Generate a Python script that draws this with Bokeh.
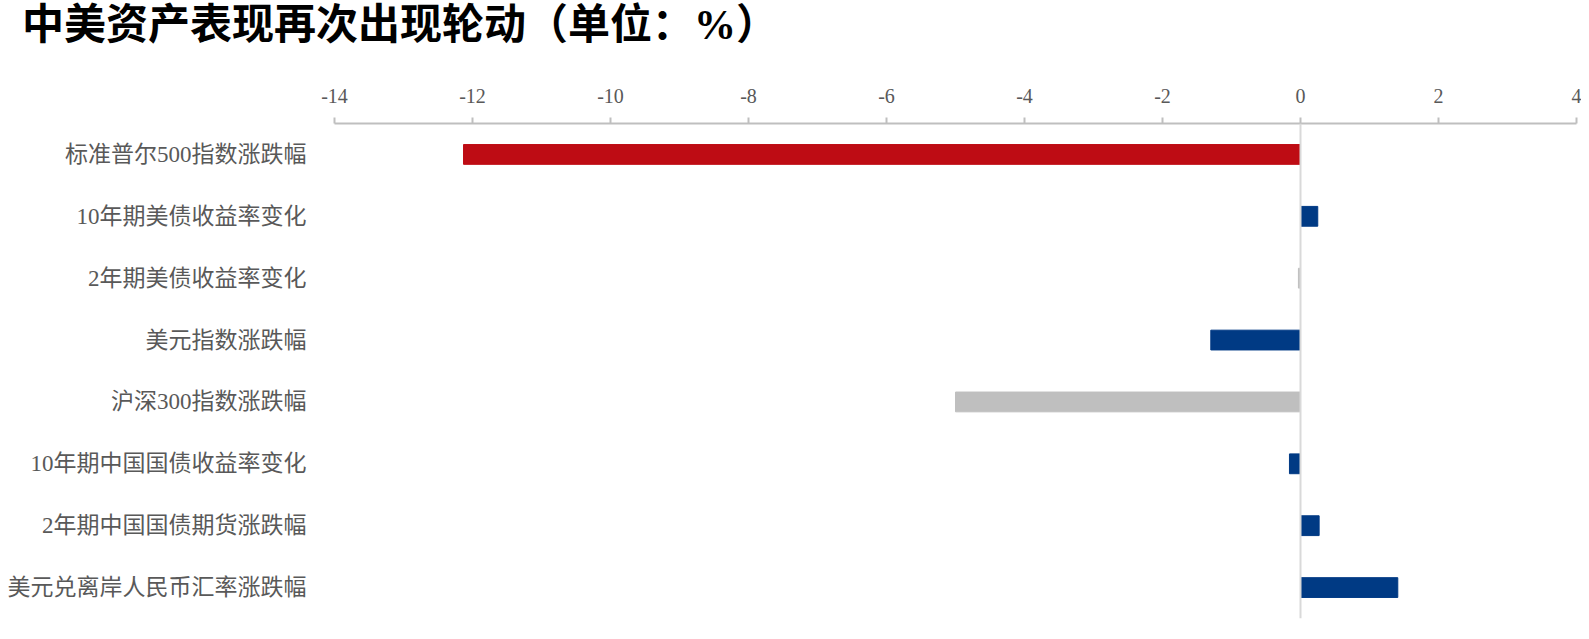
from bokeh.plotting import figure
from bokeh.models import Span, FixedTicker, ColumnDataSource, Div
from bokeh.layouts import column
from bokeh.embed import file_html
from bokeh.resources import INLINE

title_text = "中美资产表现再次出现轮动（单位：%）"
categories = [
    "标准普尔500指数涨跌幅",
    "10年期美债收益率变化",
    "2年期美债收益率变化",
    "美元指数涨跌幅",
    "沪深300指数涨跌幅",
    "10年期中国国债收益率变化",
    "2年期中国国债期货涨跌幅",
    "美元兑离岸人民币汇率涨跌幅",
]
values = [-12.13, 0.25, -0.03, -1.30, -5.00, -0.16, 0.27, 1.41]
bar_colors = ["#BE0C14", "#003A84", "#BFBFBF", "#003A84",
              "#BFBFBF", "#003A84", "#003A84", "#003A84"]
x_ticks = [-14, -12, -10, -8, -6, -4, -2, 0, 2, 4]

label_font = "'Liberation Serif', 'Noto Sans CJK SC'"

source = ColumnDataSource(data=dict(cat=categories, val=values, color=bar_colors))

title = Div(
    text=title_text, width=900, height=48, margin=(0, 0, 0, 0),
    styles={"font-family": label_font, "font-size": "42px", "font-weight": "bold",
            "line-height": "50px", "color": "#000000", "padding-left": "22px",
            "white-space": "nowrap"},
)

p = figure(
    y_range=list(reversed(categories)),
    x_range=(-14, 4),
    x_axis_location="above",
    frame_width=1242, frame_height=495,
    min_border_left=334, min_border_right=5,
    min_border_top=75, min_border_bottom=10,
    output_backend="svg", toolbar_location=None, tools="",
    margin=(0, 0, 0, 0),
)

p.hbar(y="cat", right="val", left=0, height=0.32, color="color", source=source)

p.add_layout(Span(location=0, dimension="height", line_color="#D9D9D9", line_width=2))

# top x axis
xa = p.xaxis[0]
xa.ticker = FixedTicker(ticks=x_ticks)
xa.major_label_overrides = {t: str(t) for t in x_ticks}
xa.axis_line_color = "#BFBFBF"
xa.axis_line_width = 2
xa.major_tick_line_color = "#BFBFBF"
xa.major_tick_line_width = 2
xa.major_tick_out = 6
xa.major_tick_in = 0
xa.minor_tick_line_color = None
xa.major_label_standoff = 15
xa.major_label_text_font = label_font
xa.major_label_text_font_size = "20px"
xa.major_label_text_color = "#595959"

# category axis
ya = p.yaxis[0]
ya.axis_line_color = None
ya.major_tick_line_color = None
ya.minor_tick_line_color = None
ya.major_label_standoff = 22
ya.major_label_text_font = label_font
ya.major_label_text_font_size = "23px"
ya.major_label_text_color = "#595959"

p.grid.visible = False
p.outline_line_color = None

layout = column(title, p, spacing=0)

open("out.html", "w").write(file_html(layout, INLINE))
